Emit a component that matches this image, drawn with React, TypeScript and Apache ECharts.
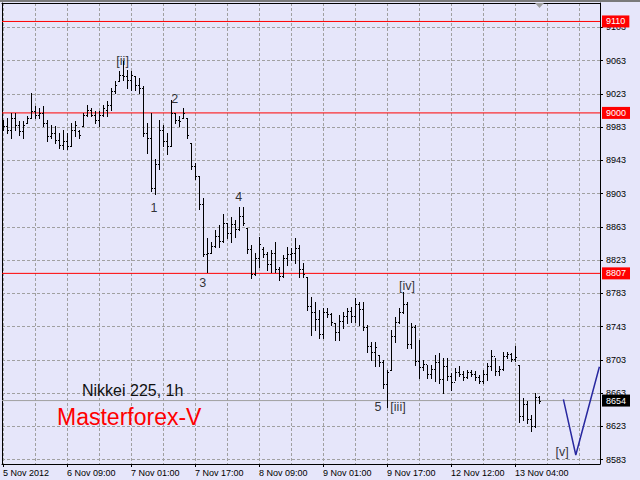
import React, { useEffect, useRef } from "react";
import * as echarts from "echarts";

// ---- data ----
const xTickLabels = [
  "5 Nov 2012", "6 Nov 09:00", "7 Nov 01:00", "7 Nov 17:00", "8 Nov 09:00",
  "9 Nov 01:00", "9 Nov 17:00", "12 Nov 12:00", "13 Nov 04:00",
];
const barsPerLabel = 16;
const barsPerGrid = 8;
const yTickValues = [8583, 8623, 8663, 8703, 8743, 8783, 8823, 8863, 8903, 8943, 8983, 9023, 9063, 9103];

const opens = [
  8988, 8984, 8980, 8994, 8986, 8978, 8988, 8994, 9002, 8998,
  9000, 8988, 8972, 8976, 8968, 8962, 8966, 8960, 8980, 8978,
  8984, 8998, 9004, 8998, 8992, 8998, 9004, 9010, 9026, 9038,
  9046, 9044, 9040, 9044, 9034, 9030, 8976, 8970, 8910, 8938,
  8980, 8966, 8960, 9000, 8992, 8994, 8994, 8964, 8936, 8924,
  8890, 8830, 8832, 8840, 8852, 8846, 8868, 8856, 8866, 8860,
  8876, 8861, 8836, 8806, 8826, 8836, 8830, 8818, 8832, 8812,
  8804, 8826, 8830, 8832, 8838, 8812, 8803, 8768, 8760, 8752,
  8734, 8760, 8758, 8747, 8736, 8750, 8756, 8762, 8756, 8770,
  8764, 8742, 8720, 8712, 8709, 8700, 8674, 8691, 8732, 8748,
  8760, 8770, 8722, 8742, 8702, 8694, 8698, 8686, 8692, 8700,
  8680, 8696, 8684, 8676, 8688, 8686, 8682, 8688, 8686, 8682,
  8678, 8686, 8696, 8708, 8690, 8692, 8708, 8710, 8704, 8697,
  8636, 8650, 8632, 8624, 8658,
];
const highs = [
  8992, 8994, 9000, 9000, 8990, 8990, 8996, 9024, 9008, 9006,
  9008, 8992, 8986, 8984, 8976, 8980, 8976, 8988, 8990, 8980,
  9000, 9010, 9006, 9002, 9002, 9010, 9014, 9030, 9038, 9050,
  9062, 9052, 9050, 9044, 9042, 9032, 8988, 9000, 8944, 8992,
  8986, 8976, 9016, 9000, 8996, 9006, 8994, 8964, 8940, 8924,
  8898, 8849, 8845, 8859, 8865, 8879, 8867, 8875, 8871, 8887,
  8887, 8861, 8841, 8831, 8851, 8839, 8833, 8835, 8845, 8815,
  8829, 8839, 8837, 8849, 8841, 8819, 8803, 8779, 8773, 8763,
  8765, 8765, 8759, 8747, 8757, 8761, 8765, 8767, 8777, 8773,
  8773, 8745, 8725, 8725, 8709, 8703, 8691, 8739, 8755, 8765,
  8785, 8773, 8747, 8745, 8727, 8703, 8697, 8697, 8709, 8711,
  8705, 8705, 8687, 8693, 8695, 8689, 8691, 8691, 8689, 8685,
  8691, 8699, 8715, 8705, 8695, 8713, 8713, 8711, 8720, 8697,
  8657, 8653, 8637, 8663, 8659,
];
const lows = [
  8980, 8976, 8970, 8980, 8974, 8970, 8988, 8994, 8994, 8994,
  8984, 8966, 8970, 8964, 8958, 8956, 8956, 8960, 8972, 8970,
  8984, 8996, 8996, 8988, 8984, 8996, 8996, 9004, 9024, 9038,
  9040, 9030, 9028, 9028, 9024, 8972, 8952, 8906, 8902, 8932,
  8960, 8950, 8960, 8988, 8984, 8994, 8970, 8932, 8921, 8884,
  8828, 8809, 8832, 8839, 8839, 8845, 8849, 8845, 8851, 8859,
  8865, 8831, 8801, 8805, 8815, 8827, 8811, 8809, 8809, 8799,
  8803, 8817, 8823, 8819, 8803, 8803, 8763, 8733, 8739, 8729,
  8729, 8755, 8745, 8727, 8727, 8741, 8747, 8749, 8749, 8745,
  8739, 8713, 8703, 8695, 8695, 8669, 8646, 8691, 8725, 8747,
  8759, 8717, 8717, 8697, 8681, 8691, 8681, 8681, 8677, 8675,
  8663, 8679, 8667, 8679, 8683, 8679, 8681, 8683, 8679, 8675,
  8675, 8679, 8691, 8685, 8685, 8691, 8705, 8701, 8701, 8628,
  8631, 8627, 8617, 8622, 8651,
];
const closes = [
  8984, 8980, 8994, 8986, 8978, 8986, 8994, 9002, 8998, 9000,
  8988, 8972, 8976, 8968, 8962, 8966, 8960, 8980, 8986, 8974,
  8998, 9004, 8998, 8992, 8998, 9006, 9010, 9026, 9034, 9046,
  9044, 9040, 9046, 9034, 9030, 8976, 8970, 8910, 8938, 8980,
  8966, 8960, 9000, 8992, 8990, 9000, 8974, 8936, 8924, 8890,
  8830, 8832, 8840, 8852, 8846, 8868, 8856, 8866, 8860, 8876,
  8868, 8836, 8806, 8826, 8842, 8830, 8818, 8832, 8812, 8804,
  8826, 8830, 8832, 8838, 8812, 8806, 8768, 8760, 8752, 8734,
  8760, 8758, 8748, 8736, 8750, 8756, 8762, 8756, 8770, 8764,
  8742, 8720, 8712, 8718, 8700, 8674, 8688, 8732, 8748, 8760,
  8770, 8722, 8742, 8702, 8694, 8698, 8686, 8692, 8700, 8680,
  8696, 8684, 8676, 8688, 8686, 8682, 8688, 8686, 8682, 8678,
  8686, 8696, 8708, 8690, 8692, 8708, 8710, 8704, 8706, 8636,
  8650, 8632, 8624, 8658, 8654,
];

const redLevels = [9110, 9000, 8807];
const currentPrice = 8654;

const waveLabels: [number, number, string][] = [
  [29.9, 9062.4, "[ii]"],
  [42.9, 9017.3, "2"],
  [37.75, 8885.6, "1"],
  [49.9, 8795.4, "3"],
  [58.9, 8898.8, "4"],
  [101, 8791.8, "[iv]"],
  [93.75, 8646.8, "5"],
  [98.75, 8646.8, "[iii]"],
  [139.75, 8592.7, "[v]"],
];

const projection: [number, number][] = [
  [140.1, 8655.5],
  [143.2, 8588.5],
  [149.1, 8694.7],
];

const chartTitle = "Nikkei 225, 1h";
const brand = "Masterforex-V";

// axis ranges
const xMin = -0.25;
const xMax = 149.25;
const yMin = 8577.7;
const yMax = 9132.2;

const FONT = '"Liberation Sans", Arial, sans-serif';

export default function App() {
  const ref = useRef<HTMLDivElement>(null);

  useEffect(() => {
    if (!ref.current) return;
    const chart = echarts.init(ref.current, null, { renderer: "svg" });

    const barData = opens.map((o, i) => [i, o, highs[i], lows[i], closes[i]]);
    const labelPositions = xTickLabels.map((_, i) => i * barsPerLabel);
    const gridPositions: number[] = [];
    for (let v = 0; v <= xMax; v += barsPerGrid) gridPositions.push(v);

    const levelSeries = (value: number, lineColor: string, tagColor: string, z: number) => ({
      type: "line",
      xAxisIndex: 0,
      yAxisIndex: 0,
      data: [[xMin, value], [xMax, value]],
      symbol: "none",
      showSymbol: false,
      silent: true,
      z,
      color: lineColor,
      lineStyle: { color: lineColor, width: 1, type: "solid" },
      emphasis: { disabled: true },
      endLabel: {
        show: true,
        formatter: () => String(value),
        distance: 2,
        backgroundColor: tagColor,
        color: "#ffffff",
        fontSize: 9,
        fontFamily: FONT,
        padding: [1, 4, 0, 4],
        lineHeight: 11,
        align: "left",
        verticalAlign: "middle",
      },
    });

    const option: any = {
      animation: false,
      backgroundColor: "#E6E6FA",
      grid: {
        left: 2,
        top: 3,
        right: 40,
        bottom: 16,
        show: false,
        containLabel: false,
        outerBoundsMode: "none",
      },
      xAxis: [
        {
          type: "value",
          position: "bottom",
          min: xMin,
          max: xMax,
          axisLine: { show: true, onZero: false, lineStyle: { color: "#000", width: 1 } },
          axisTick: { show: true, length: 3, customValues: labelPositions, lineStyle: { color: "#000" } },
          axisLabel: {
            customValues: labelPositions,
            formatter: (v: number) => xTickLabels[Math.round(v / barsPerLabel)] ?? "",
            align: "left",
            color: "#000",
            fontSize: 9,
            fontFamily: FONT,
            margin: 4,
          },
          splitLine: { show: false },
        },
        {
          type: "value",
          position: "top",
          min: xMin,
          max: xMax,
          axisLine: { show: true, onZero: false, lineStyle: { color: "#000", width: 1 } },
          axisTick: { show: false, customValues: gridPositions },
          axisLabel: { show: false },
          splitLine: { show: true, lineStyle: { color: "#a0a0a0", type: [3, 2], width: 1 } },
        },
      ],
      yAxis: [
        {
          type: "value",
          position: "right",
          min: yMin,
          max: yMax,
          axisLine: { show: true, onZero: false, lineStyle: { color: "#000", width: 1 } },
          axisTick: { show: true, length: 3, customValues: yTickValues, lineStyle: { color: "#000" } },
          axisLabel: {
            customValues: yTickValues,
            formatter: (v: number) => String(Math.round(v)),
            color: "#000",
            fontSize: 9,
            fontFamily: FONT,
            margin: 6,
          },
          splitLine: { show: true, lineStyle: { color: "#a0a0a0", type: [3, 2], width: 1 } },
        },
        {
          type: "value",
          position: "left",
          min: yMin,
          max: yMax,
          axisLine: { show: true, onZero: false, lineStyle: { color: "#000", width: 1 } },
          axisTick: { show: false },
          axisLabel: { show: false },
          splitLine: { show: false },
        },
      ],
      series: [
        levelSeries(currentPrice, "#a0a0a0", "#000000", 3),
        ...redLevels.map((v) => levelSeries(v, "#ff0000", "#ff0000", 3)),
        {
          type: "line",
          xAxisIndex: 0,
          yAxisIndex: 0,
          data: projection,
          showSymbol: false,
          symbol: "none",
          silent: true,
          z: 4,
          color: "#2828a0",
          lineStyle: { color: "#2828a0", width: 1.5 },
        },
        {
          type: "custom",
          xAxisIndex: 0,
          yAxisIndex: 0,
          data: barData,
          encode: { x: 0, y: [1, 2, 3, 4] },
          z: 5,
          silent: true,
          renderItem: (_params: any, api: any) => {
            const i = api.value(0);
            const pH = api.coord([i, api.value(2)]);
            const pL = api.coord([i, api.value(3)]);
            const pO = api.coord([i, api.value(1)]);
            const pC = api.coord([i, api.value(4)]);
            const x = Math.round(pH[0] + 0.01) + 0.5;
            const yH = Math.round(pH[1]);
            const yL = Math.round(pL[1]) + 1;
            const yO = Math.round(pO[1]) + 0.5;
            const yC = Math.round(pC[1]) + 0.5;
            return {
              type: "group",
              children: [
                { type: "line", shape: { x1: x, y1: yH, x2: x, y2: yL }, style: { stroke: "#000", lineWidth: 1 } },
                { type: "line", shape: { x1: x - 1.5, y1: yO, x2: x - 0.5, y2: yO }, style: { stroke: "#000", lineWidth: 1 } },
                { type: "line", shape: { x1: x + 0.5, y1: yC, x2: x + 1.5, y2: yC }, style: { stroke: "#000", lineWidth: 1 } },
              ],
            };
          },
        },
        {
          type: "scatter",
          xAxisIndex: 0,
          yAxisIndex: 0,
          data: waveLabels,
          symbolSize: 1,
          itemStyle: { color: "rgba(0,0,0,0)" },
          silent: true,
          z: 6,
          label: {
            show: true,
            position: "inside",
            formatter: (p: any) => p.data[2],
            color: "#000000",
            textBorderWidth: 0,
            fontSize: 12.5,
            fontFamily: FONT,
          },
        },
      ],
      graphic: [
        { type: "rect", shape: { x: 0, y: 0, width: 640, height: 2 }, style: { fill: "#7a7a7a" }, z: 100, silent: true },
        {
          type: "polygon",
          shape: { points: [[535, 3], [544, 3], [539.5, 8]] },
          style: { fill: "#a0a0a0" },
          z: 100,
          silent: true,
        },
        {
          type: "text",
          x: 82,
          y: 390,
          style: { text: chartTitle, fill: "#111111", fontSize: 16, fontFamily: FONT, align: "left", verticalAlign: "middle" },
          z: 100,
          silent: true,
        },
        {
          type: "text",
          x: 57,
          y: 417,
          style: { text: brand, fill: "#ff0000", fontSize: 23, fontFamily: FONT, align: "left", verticalAlign: "middle" },
          z: 100,
          silent: true,
        },
      ],
    };

    chart.setOption(option);
    return () => chart.dispose();
  }, []);

  return (
    <div
      ref={ref}
      style={{ position: "absolute", left: 0, top: 0, width: 640, height: 480, background: "#E6E6FA" }}
    />
  );
}
